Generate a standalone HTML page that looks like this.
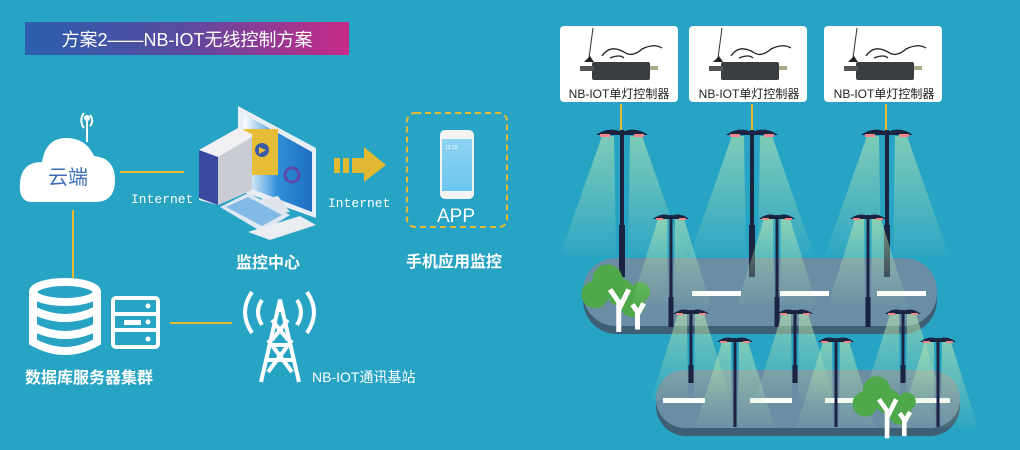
<!DOCTYPE html>
<html><head><meta charset="utf-8"><style>
html,body{margin:0;padding:0;background:#27a3c4;}
svg{display:block}
text{font-family:"Liberation Sans","Noto Sans CJK SC",sans-serif;}
</style></head><body>
<svg width="1020" height="450" viewBox="0 0 1020 450" xmlns="http://www.w3.org/2000/svg">
<defs>
<linearGradient id="tg" x1="0" x2="1"><stop offset="0" stop-color="#2a5fae"/><stop offset="0.5" stop-color="#5b4a9e"/><stop offset="1" stop-color="#c82a88"/></linearGradient>
<linearGradient id="lg" x1="0" y1="0" x2="0" y2="1"><stop offset="0" stop-color="#b8e6b0" stop-opacity="0.6"/><stop offset="1" stop-color="#b8e6b0" stop-opacity="0.05"/></linearGradient>
<linearGradient id="sg" x1="0" y1="0" x2="1" y2="0"><stop offset="0" stop-color="#ffffff"/><stop offset="0.5" stop-color="#2f8fd8"/><stop offset="1" stop-color="#1f6fc0"/></linearGradient>
<linearGradient id="pg" x1="0" y1="0" x2="0" y2="1"><stop offset="0" stop-color="#8fd2f0"/><stop offset="1" stop-color="#6cc6ee"/></linearGradient>
<g id="bigL">
<polygon points="-20,6 -8,6 -6,125 -62,125" fill="url(#lg)"/>
<polygon points="8,6 20,6 62,125 6,125" fill="url(#lg)"/>
<rect x="-2" y="0" width="4" height="147" fill="#1a2340"/>
<rect x="-3" y="95" width="6" height="52" fill="#1a2340"/>
<path d="M-26,5 Q-14,-4 0,2 Q14,-4 26,5 Z" fill="#1a2340"/>
<rect x="-22" y="4" width="10" height="3" fill="#e88"/><rect x="12" y="4" width="10" height="3" fill="#e88"/>
</g>
<g id="head">
<path d="M-18,4 Q-9,-3 0,1 Q9,-3 18,4 Z" fill="#1a2340"/>
<rect x="-15" y="3" width="7" height="2" fill="#e88"/><rect x="8" y="3" width="7" height="2" fill="#e88"/>
</g>
<g id="cone">
<polygon points="-13,4 -4,4 -3,90 -40,90" fill="url(#lg)"/>
<polygon points="4,4 13,4 40,90 3,90" fill="url(#lg)"/>
</g>
<g id="smA"><use href="#cone"/><rect x="-1.5" y="0" width="3" height="112" fill="#1a2340"/><rect x="-2.5" y="82" width="5" height="30" fill="#1a2340"/><use href="#head"/></g>
<g id="smB"><use href="#cone"/><rect x="-1.5" y="0" width="3" height="73" fill="#1a2340"/><rect x="-2.5" y="55" width="5" height="18" fill="#1a2340"/><use href="#head"/></g>
<g id="smC"><use href="#cone"/><rect x="-1.5" y="0" width="3" height="89" fill="#1a2340"/><use href="#head"/></g>
<g id="ctrl">
<rect x="0" y="0" width="118" height="76" rx="4" fill="#fff"/>
<line x1="33" y1="2" x2="29" y2="32" stroke="#333" stroke-width="1"/>
<path d="M24,36 l10,0 l-4,-6 z" fill="#222"/>
<path d="M42,30 q8,-12 22,-4 q8,6 18,-3 q12,-6 20,-1" fill="none" stroke="#222" stroke-width="1.3"/>
<path d="M50,32 q10,-4 14,0" fill="none" stroke="#222" stroke-width="1.3"/>
<rect x="32" y="36" width="58" height="18" rx="2" fill="#3a3d42"/>
<rect x="20" y="40" width="14" height="5" fill="#555"/>
<rect x="90" y="40" width="8" height="4" fill="#aa8"/>
</g>
<g id="tree">
<circle cx="18" cy="14" r="12" fill="#4fa84a"/><circle cx="8" cy="26" r="11" fill="#4fa84a"/><circle cx="28" cy="24" r="11" fill="#4fa84a"/><circle cx="38" cy="34" r="10" fill="#4fa84a"/><circle cx="44" cy="24" r="8" fill="#4fa84a"/>
<path d="M27,56 L27,32 L20,22 M27,38 L35,22 M42,54 L42,40 L38,34 M42,42 L47,33" stroke="#fff" stroke-width="4" fill="none"/>
</g>
</defs>

<rect x="25" y="22" width="324" height="33" fill="url(#tg)"/>
<text x="187" y="46" fill="#fff" font-size="18" text-anchor="middle">方案2——NB-IOT无线控制方案</text>

<path d="M90,115 a8,8 0 0 1 0,11 M84,113 a12,12 0 0 0 0,15" fill="none" stroke="#fff" stroke-width="2"/>
<line x1="87" y1="118" x2="87" y2="142" stroke="#fff" stroke-width="2"/><circle cx="87" cy="118" r="3" fill="#fff"/>
<path d="M32,202 Q18,202 20,182 Q22,162 42,162 Q46,138 66,138 Q86,138 94,156 Q115,158 115,180 Q115,202 95,202 Z" fill="#fff"/>
<text x="68" y="184" fill="#3b6fb5" font-size="20" text-anchor="middle">云端</text>
<line x1="120" y1="172" x2="184" y2="172" stroke="#e8b830" stroke-width="2"/>
<text x="131" y="203" fill="#fff" font-size="13" style="font-family:'Liberation Mono',monospace">Internet</text>

<polygon points="238,106 316,148 316,218 238,190" fill="#e8eef5"/>
<polygon points="244,114 312,152 312,212 244,186" fill="url(#sg)"/>
<rect x="244" y="129" width="34" height="46" fill="#e8bd36"/>
<circle cx="262" cy="150" r="7" fill="#3a5aa8"/><polygon points="259,147 266,150 259,154" fill="#e8bd36"/>
<circle cx="292" cy="175" r="7" fill="none" stroke="#5b4aa8" stroke-width="3"/>
<polygon points="199,150 238,128 252,134 252,190 218,205 199,200" fill="#f1f1f3"/>
<polygon points="199,150 218,157 218,205 199,198" fill="#3a49a0"/>
<polygon points="218,157 252,137 252,190 218,205" fill="#c9ccd2"/>
<polygon points="258,200 278,196 290,212 265,216" fill="#e0e4ea"/>
<polygon points="220,207 248,193 290,215 262,232" fill="#dfe7f2"/>
<polygon points="226,207 248,197 282,215 262,226" fill="#5aa7e0" opacity="0.7"/>
<polygon points="248,232 300,216 316,225 270,240" fill="#eaeef3"/>

<rect x="334" y="158" width="6" height="15" fill="#e0b832"/><rect x="343" y="158" width="6" height="15" fill="#e0b832"/>
<polygon points="352,158 364,158 364,147 386,165 364,182 364,173 352,173" fill="#e0b832"/>
<text x="328" y="207" fill="#fff" font-size="13" style="font-family:'Liberation Mono',monospace">Internet</text>

<rect x="407" y="113" width="100" height="114" rx="8" fill="none" stroke="#e8b830" stroke-width="2" stroke-dasharray="6,4"/>
<rect x="440" y="130" width="34" height="69" rx="5" fill="#f3f3f3"/>
<rect x="442" y="139" width="30" height="52" fill="url(#pg)"/>
<text x="445" y="149" fill="#fff" font-size="5">12:19</text>
<text x="456" y="222" fill="#fff" font-size="19" text-anchor="middle">APP</text>
<text x="454" y="267" fill="#fff" font-size="16" font-weight="bold" text-anchor="middle">手机应用监控</text>
<text x="268" y="268" fill="#fff" font-size="16" font-weight="bold" text-anchor="middle">监控中心</text>

<line x1="73" y1="210" x2="73" y2="278" stroke="#e8b830" stroke-width="2"/>

<g fill="none" stroke="#fff" stroke-width="8">
<ellipse cx="65" cy="292" rx="32" ry="10"/>
<path d="M33,292 V342 Q65,360 97,342 V292"/>
<path d="M33,310 Q65,326 97,310 M33,327 Q65,343 97,327"/>
</g>
<rect x="113" y="298" width="45" height="49" rx="3" fill="none" stroke="#fff" stroke-width="4"/>
<line x1="113" y1="314" x2="158" y2="314" stroke="#fff" stroke-width="4"/>
<line x1="113" y1="330" x2="158" y2="330" stroke="#fff" stroke-width="4"/>
<circle cx="148" cy="306" r="2.5" fill="#fff"/><circle cx="148" cy="322" r="2.5" fill="#fff"/><circle cx="148" cy="339" r="2.5" fill="#fff"/>
<rect x="124" y="320" width="17" height="5" fill="#fff"/>
<text x="89" y="383" fill="#fff" font-size="16" font-weight="bold" text-anchor="middle">数据库服务器集群</text>
<line x1="170" y1="323" x2="232" y2="323" stroke="#e8b830" stroke-width="2"/>

<g fill="none" stroke="#fff" stroke-width="4">
<path d="M252,292 Q238,312 252,333 M262,300 Q254,312 262,325"/>
<path d="M307,292 Q321,312 307,333 M297,300 Q305,312 297,325"/>
<path d="M261,382 L280,300 L299,382 M270,345 L290,345 M266,360 L294,360 M268,340 L292,372 M292,340 L268,372 M272,320 L288,340 M288,320 L272,340"/>
</g>
<polygon points="280,298 276,312 284,312" fill="#fff"/>
<text x="312" y="382" fill="#fff" font-size="14">NB-IOT通讯基站</text>

<use href="#ctrl" x="560" y="26"/><use href="#ctrl" x="689" y="26"/><use href="#ctrl" x="824" y="26"/>
<text x="619" y="98" fill="#222" font-size="12" text-anchor="middle">NB-IOT单灯控制器</text>
<text x="749" y="98" fill="#222" font-size="12" text-anchor="middle">NB-IOT单灯控制器</text>
<text x="884" y="98" fill="#222" font-size="12" text-anchor="middle">NB-IOT单灯控制器</text>
<g stroke="#e8b830" stroke-width="2"><line x1="621" y1="104" x2="621" y2="130"/><line x1="752" y1="104" x2="752" y2="130"/><line x1="886" y1="104" x2="886" y2="130"/></g>

<rect x="583" y="262" width="354" height="72" rx="34" fill="#3f5f74"/>
<rect x="583" y="258" width="354" height="68" rx="33" fill="#6b8ea5"/>
<g fill="#fff"><rect x="692" y="291" width="49" height="5"/><rect x="780" y="291" width="49" height="5"/><rect x="877" y="291" width="49" height="5"/></g>
<rect x="656" y="374" width="304" height="62" rx="30" fill="#3f5f74"/>
<rect x="656" y="370" width="304" height="58" rx="29" fill="#6b8ea5"/>
<g fill="#fff"><rect x="663" y="398" width="42" height="5"/><rect x="750" y="398" width="42" height="5"/><rect x="825" y="398" width="40" height="5"/><rect x="910" y="398" width="40" height="5"/></g>

<use href="#bigL" x="622" y="130"/><use href="#bigL" x="752" y="130"/><use href="#bigL" x="887" y="130"/>
<use href="#tree" transform="translate(585,262) scale(1.25)"/>
<use href="#smA" x="671" y="215"/><use href="#smA" x="777" y="215"/><use href="#smA" x="868" y="215"/>
<use href="#smB" x="691" y="310"/><use href="#smB" x="795" y="310"/><use href="#smB" x="903" y="310"/>
<use href="#smC" x="735" y="338"/><use href="#smC" x="836" y="338"/><use href="#smC" x="938" y="338"/>
<use href="#tree" transform="translate(856,374) scale(1.15)"/>
</svg>
</body></html>
